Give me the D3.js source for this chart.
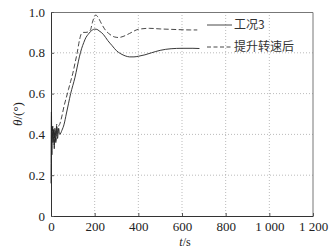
<!DOCTYPE html>
<html>
<head>
<meta charset="utf-8">
<script src="https://cdn.jsdelivr.net/npm/d3@7"></script>
<style>
  body { margin: 0; background: #fff; }
  svg { display: block; }
</style>
</head>
<body>
<div id="chart"></div>
<script>
// * Data
var seriesNames = ["工况3", "提升转速后"];
var xTicks = [0, 200, 400, 600, 800, 1000, 1200];
var xTickLabels = ["0", "200", "400", "600", "800", "1 000", "1 200"];
var yTicks = [0, 0.2, 0.4, 0.6, 0.8, 1.0];
var yTickLabels = ["0", "0.2", "0.4", "0.6", "0.8", "1.0"];

// 工况3 (solid)
var solidT = [0, 2, 4, 6, 9, 12, 15, 18, 22, 26, 30, 35, 40, 50, 60, 70, 80, 90, 100, 110, 120, 130, 140, 150, 160, 170, 180, 190, 200, 210, 220, 240, 260, 280, 300, 320, 340, 360, 380, 400, 430, 460, 500, 550, 600, 650, 680];
var solidV = [0.16, 0.51, 0.30, 0.44, 0.36, 0.42, 0.33, 0.43, 0.36, 0.44, 0.38, 0.43, 0.40, 0.42, 0.45, 0.50, 0.55, 0.60, 0.64, 0.68, 0.73, 0.78, 0.82, 0.85, 0.875, 0.89, 0.903, 0.912, 0.916, 0.915, 0.908, 0.89, 0.86, 0.835, 0.81, 0.795, 0.785, 0.78, 0.78, 0.783, 0.79, 0.80, 0.812, 0.82, 0.822, 0.822, 0.821];

// 提升转速后 (dashed)
var dashT = [5, 10, 14, 18, 22, 26, 30, 35, 40, 50, 60, 70, 80, 90, 100, 110, 120, 130, 140, 150, 160, 170, 180, 190, 200, 205, 215, 230, 250, 270, 290, 310, 330, 360, 400, 450, 500, 550, 600, 640, 670];
var dashV = [0.38, 0.44, 0.35, 0.42, 0.37, 0.45, 0.40, 0.44, 0.45, 0.49, 0.54, 0.58, 0.62, 0.66, 0.70, 0.75, 0.80, 0.86, 0.895, 0.90, 0.90, 0.902, 0.91, 0.95, 0.98, 0.985, 0.975, 0.945, 0.91, 0.89, 0.878, 0.875, 0.88, 0.895, 0.915, 0.92, 0.917, 0.915, 0.913, 0.912, 0.912];

var serif = "'Liberation Serif', 'DejaVu Serif', serif";

// * Dimensions
var W = 335, H = 250;
var margin = { left: 51, top: 12, right: 22, bottom: 34 };
var width = W - margin.left - margin.right;
var height = H - margin.top - margin.bottom;

var x = d3.scaleLinear().domain([0, 1200]).range([0, width]);
var y = d3.scaleLinear().domain([0, 1]).range([height, 0]);

var svg = d3.select("#chart").append("svg")
  .attr("width", W)
  .attr("height", H);

var g = svg.append("g")
  .attr("transform", "translate(" + margin.left + "," + margin.top + ")");

// * Dotted grid
g.append("g").selectAll("line")
  .data(xTicks.filter(function (d) { return d > 0 && d < 1200; }))
  .enter().append("line")
  .attr("x1", function (d) { return x(d); })
  .attr("x2", function (d) { return x(d); })
  .attr("y1", 0).attr("y2", height)
  .attr("stroke", "#aaa").attr("stroke-width", 0.8)
  .attr("stroke-dasharray", "1,2");

g.append("g").selectAll("line")
  .data(yTicks.filter(function (d) { return d > 0 && d < 1; }))
  .enter().append("line")
  .attr("x1", 0).attr("x2", width)
  .attr("y1", function (d) { return y(d); })
  .attr("y2", function (d) { return y(d); })
  .attr("stroke", "#aaa").attr("stroke-width", 0.8)
  .attr("stroke-dasharray", "1,2");

// * Box (top and right)
g.append("path")
  .attr("d", "M0,0.5H" + width + "V" + height)
  .attr("fill", "none").attr("stroke", "#777").attr("stroke-width", 1);

// * Axes
var xAxis = g.append("g")
  .attr("transform", "translate(0," + height + ")")
  .call(d3.axisBottom(x).tickValues(xTicks)
    .tickFormat(function (d, i) { return xTickLabels[i]; })
    .tickSizeInner(-3).tickSizeOuter(0).tickPadding(6));
xAxis.select(".domain").attr("stroke", "#333");
xAxis.selectAll(".tick line").attr("stroke", "#555");

var yAxis = g.append("g")
  .call(d3.axisLeft(y).tickValues(yTicks)
    .tickFormat(function (d, i) { return yTickLabels[i]; })
    .tickSizeInner(-3).tickSizeOuter(0).tickPadding(6));
yAxis.select(".domain").attr("stroke", "#333");
yAxis.selectAll(".tick line").attr("stroke", "#555");

[xAxis, yAxis].forEach(function (ax) {
  ax.attr("font-family", serif).attr("font-size", 13);
  ax.selectAll(".tick text")
    .style("font-family", serif)
    .style("font-size", "13px")
    .attr("fill", "#222");
});

// * Lines
var line = d3.line()
  .x(function (d) { return x(d[0]); })
  .y(function (d) { return y(d[1]); })
  .curve(d3.curveMonotoneX);

var solidData = solidT.map(function (t, i) { return [t, solidV[i]]; });
var dashData = dashT.map(function (t, i) { return [t, dashV[i]]; });

g.append("path")
  .datum(dashData)
  .attr("d", line)
  .attr("fill", "none")
  .attr("stroke", "#333")
  .attr("stroke-width", 0.9)
  .attr("stroke-dasharray", "5,2.5");

g.append("path")
  .datum(solidData)
  .attr("d", line)
  .attr("fill", "none")
  .attr("stroke", "#222")
  .attr("stroke-width", 0.9);

// * Legend
var legend = g.append("g");
var rows = [
  { name: seriesNames[0], dash: null, ly: 25 - margin.top },
  { name: seriesNames[1], dash: "4,2.5", ly: 47 - margin.top }
];
rows.forEach(function (r) {
  legend.append("line")
    .attr("x1", 207 - margin.left).attr("x2", 232 - margin.left)
    .attr("y1", r.ly).attr("y2", r.ly)
    .attr("stroke", "#333").attr("stroke-width", 0.9)
    .attr("stroke-dasharray", r.dash);
  legend.append("text")
    .attr("x", 234 - margin.left).attr("y", r.ly)
    .attr("dy", "0.35em")
    .style("font-family", "'Noto Sans CJK SC', sans-serif")
    .style("font-size", "12px")
    .style("fill", "#333")
    .text(r.name);
});

// * Axis labels
svg.append("text")
  .attr("transform", "translate(17," + (margin.top + height / 2) + ") rotate(-90)")
  .attr("text-anchor", "middle")
  .attr("dy", "0.35em")
  .style("font-family", serif)
  .style("font-size", "13px")
  .style("fill", "#222")
  .html('<tspan font-style="italic">θ</tspan>/(°)');

svg.append("text")
  .attr("x", margin.left + width / 2 + 3)
  .attr("y", 246)
  .attr("text-anchor", "middle")
  .style("font-family", serif)
  .style("font-size", "12px")
  .style("fill", "#222")
  .html('<tspan font-style="italic">t</tspan>/s');
</script>
</body>
</html>
